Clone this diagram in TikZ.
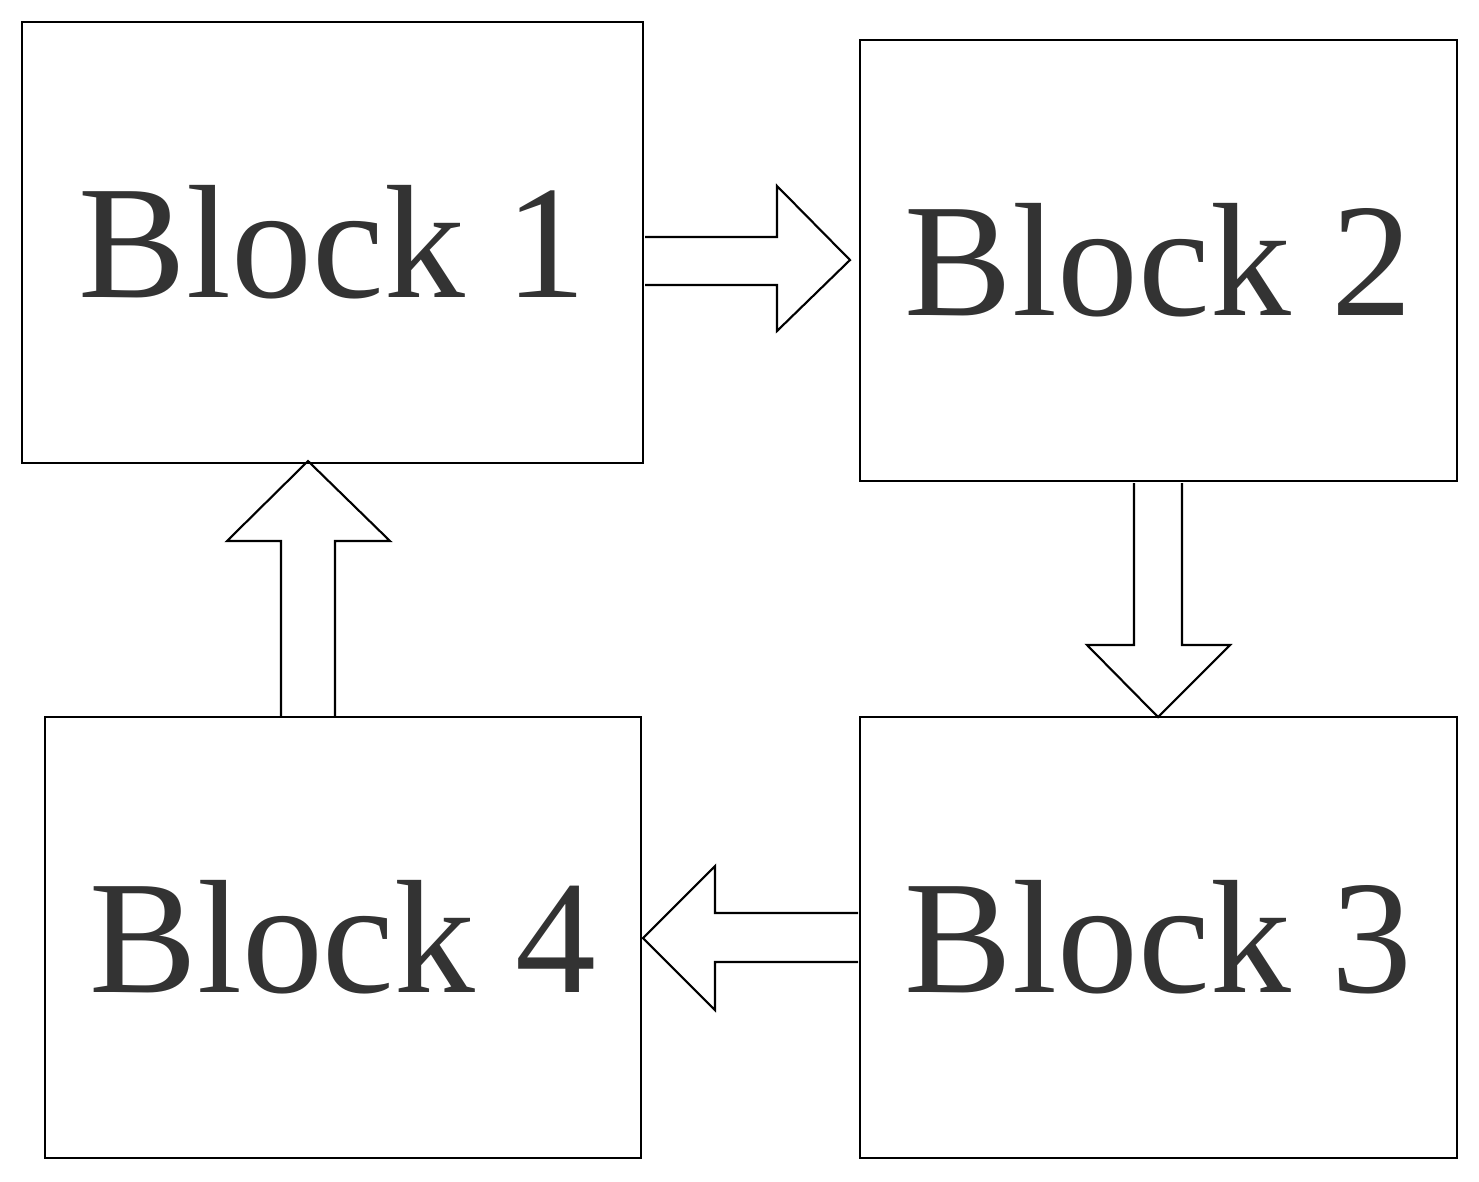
\documentclass[tikz,border=0pt]{standalone}
\usepackage{fontspec}
\setmainfont{Liberation Serif}
\usetikzlibrary{positioning}

\begin{document}
\begin{tikzpicture}[
    x=0.02cm, y=-0.02cm,
    blk/.style = {draw, line width=1.2pt, inner sep=0pt, text=black!80,
                  font=\fontsize{92}{92}\selectfont},
    fat/.style = {draw, line width=1.2pt, line join=miter}
]
\useasboundingbox (0,0) rectangle (1479,1181);

\node[blk, minimum width=12.42cm, minimum height=8.82cm] (B1) at (332.5,242.5) {Block 1};
\node[blk, minimum width=11.94cm, minimum height=8.82cm] (B2) at (1158.5,260.5) {Block 2};
\node[blk, minimum width=11.94cm, minimum height=8.82cm] (B3) at (1158.5,937.5) {Block 3};
\node[blk, minimum width=11.92cm, minimum height=8.82cm] (B4) at (343,937.5) {Block 4};

% hollow arrows between blocks
\draw[fat] (645,237) -- (777,237) -- (777,186) -- (850,260) -- (777,331) -- (777,285) -- (645,285);
\draw[fat] (1134,483) -- (1134,645) -- (1087,645) -- (1158,717) -- (1230,645) -- (1182,645) -- (1182,483);
\draw[fat] (858,913) -- (715,913) -- (715,866) -- (643,938) -- (715,1010) -- (715,962) -- (858,962);
\draw[fat] (281,717) -- (281,541) -- (227,541) -- (308,461) -- (390,541) -- (335,541) -- (335,717);

\end{tikzpicture}
\end{document}
